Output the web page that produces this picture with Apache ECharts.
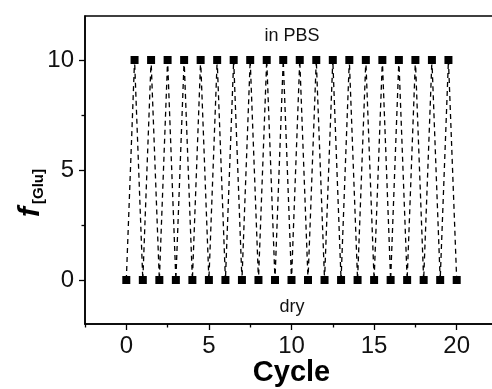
<!DOCTYPE html>
<html>
<head>
<meta charset="utf-8">
<script src="https://cdn.jsdelivr.net/npm/echarts@6/dist/echarts.min.js"></script>
<style>
  html, body { margin: 0; padding: 0; background: #fff; }
  #chart { width: 492px; height: 389px; }
</style>
</head>
<body>
<div id="chart"></div>
<script>
// Switching cycles: each full cycle goes dry (0) -> in PBS (10) -> dry (0)
var cycleX = [0, 0.5, 1, 1.5, 2, 2.5, 3, 3.5, 4, 4.5, 5, 5.5, 6, 6.5, 7, 7.5, 8, 8.5, 9, 9.5,
              10, 10.5, 11, 11.5, 12, 12.5, 13, 13.5, 14, 14.5, 15, 15.5, 16, 16.5, 17, 17.5,
              18, 18.5, 19, 19.5, 20];
var fGlu = [0, 10, 0, 10, 0, 10, 0, 10, 0, 10, 0, 10, 0, 10, 0, 10, 0, 10, 0, 10,
            0, 10, 0, 10, 0, 10, 0, 10, 0, 10, 0, 10, 0, 10, 0, 10, 0, 10, 0, 10, 0];

var xMajorTicks = [0, 5, 10, 15, 20];
var xMinorTicks = [-2.5, 2.5, 7.5, 12.5, 17.5, 22.5];
var yMajorTicks = [0, 5, 10];
var yMinorTicks = [2.5, 7.5];

var points = cycleX.map(function (x, i) { return [x, fGlu[i]]; });

var font = '"Liberation Sans", Arial, sans-serif';
var chart = echarts.init(document.getElementById('chart'), null, { renderer: 'canvas' });

chart.setOption({
  animation: false,
  backgroundColor: '#fff',
  grid: {
    left: 85, top: 16, width: 413, height: 308,
    outerBoundsMode: 'none', containLabel: false,
    show: true, borderColor: '#000', borderWidth: 1.5, backgroundColor: 'transparent'
  },
  xAxis: [{
    type: 'value', min: -2.5, max: 22.5,
    name: 'Cycle', nameLocation: 'middle', nameGap: 34, nameMoveOverlap: false,
    nameTextStyle: { fontFamily: font, fontSize: 29, fontWeight: 'bold', color: '#000' },
    axisLine: { show: true, onZero: false, lineStyle: { color: '#000', width: 1.5 } },
    axisTick: { show: true, customValues: xMajorTicks, length: 6, lineStyle: { color: '#000', width: 1.3 } },
    axisLabel: { customValues: xMajorTicks, margin: 10, fontFamily: font, fontSize: 24, color: '#111' },
    splitLine: { show: false }
  }, {
    type: 'value', min: -2.5, max: 22.5, position: 'bottom',
    axisLine: { show: false, onZero: false },
    axisTick: { show: true, customValues: xMinorTicks, length: 3.5, lineStyle: { color: '#000', width: 1.3 } },
    axisLabel: { show: false },
    splitLine: { show: false }
  }],
  yAxis: [{
    type: 'value', min: -2, max: 12,
    axisLine: { show: true, onZero: false, lineStyle: { color: '#000', width: 1.5 } },
    axisTick: { show: true, customValues: yMajorTicks, length: 6, lineStyle: { color: '#000', width: 1.3 } },
    axisLabel: { customValues: yMajorTicks, margin: 11, fontFamily: font, fontSize: 24, color: '#111' },
    splitLine: { show: false }
  }, {
    type: 'value', min: -2, max: 12, position: 'left',
    axisLine: { show: false, onZero: false },
    axisTick: { show: true, customValues: yMinorTicks, length: 3.5, lineStyle: { color: '#000', width: 1.3 } },
    axisLabel: { show: false },
    splitLine: { show: false }
  }],
  graphic: [{
    type: 'text', x: 292, y: 36,
    style: { text: 'in PBS', fontFamily: font, fontSize: 18, fill: '#111', align: 'center', verticalAlign: 'middle' }
  }, {
    type: 'text', x: 292, y: 307,
    style: { text: 'dry', fontFamily: font, fontSize: 18, fill: '#111', align: 'center', verticalAlign: 'middle' }
  }, {
    type: 'text', x: 31, y: 193, rotation: Math.PI / 2,
    style: {
      text: '{f|f}{s|[Glu]}',
      align: 'center', verticalAlign: 'middle',
      rich: {
        f: { fontFamily: font, fontSize: 30, fontStyle: 'italic', fontWeight: 'bold', fill: '#000' },
        s: { fontFamily: font, fontSize: 15, fontWeight: 'bold', fill: '#000', verticalAlign: 'bottom', padding: [16, 0, 0, 3] }
      }
    }
  }],
  series: [{
    type: 'line',
    xAxisIndex: 0, yAxisIndex: 0,
    data: points,
    showAllSymbol: true,
    symbol: 'rect', symbolSize: 8,
    itemStyle: { color: '#000' },
    lineStyle: { color: '#000', width: 1.3, type: [5, 4] }
  }]
});
</script>
</body>
</html>
